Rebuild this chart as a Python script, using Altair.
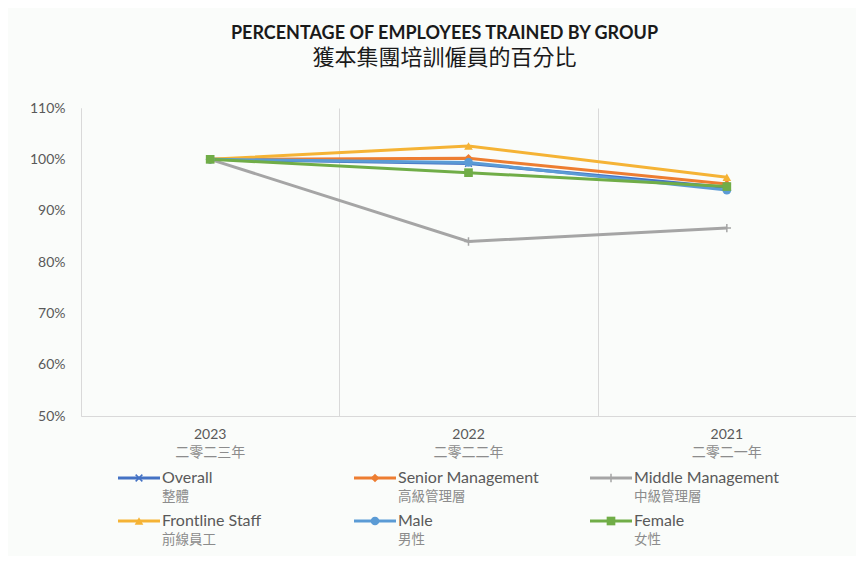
import altair as alt
import pandas as pd

# ---- data ----
years = ["2023", "2022", "2021"]
years_zh = ["二零二三年", "二零二二年", "二零二一年"]
series = ["Overall", "Senior Management", "Middle Management",
          "Frontline Staff", "Male", "Female"]
series_zh = ["整體", "高級管理層", "中級管理層", "前線員工", "男性", "女性"]
overall = [100.0, 99.2, 94.5]
senior = [100.0, 100.2, 95.2]
middle = [100.0, 84.0, 86.6]
frontline = [100.0, 102.6, 96.5]
male = [100.0, 99.4, 94.0]
female = [100.0, 97.4, 94.7]

colors = ["#4472C4", "#ED7D31", "#A5A5A5", "#F5B335", "#5B9BD5", "#70AD47"]
X_PATH = "M-0.8,-0.8L0.8,0.8M-0.8,0.8L0.8,-0.8"
PLUS_PATH = "M0,-1L0,1M-1,0L1,0"
shapes = [X_PATH, "diamond", PLUS_PATH, "triangle-up", "circle", "square"]
stroked = ["Overall", "Middle Management"]

values = [overall, senior, middle, frontline, male, female]
rows = []
for s, vals in zip(series, values):
    for y, v in zip(years, vals):
        rows.append({"series": s, "year": y, "value": v})
df = pd.DataFrame(rows)
df_years = pd.DataFrame({"year": years, "zh": years_zh})
df_leg = pd.DataFrame({"series": series, "zh": series_zh})

W, H = 775, 308
year_arr = "[" + ",".join(f"'{y}'" for y in years) + "]"
ser_arr = "[" + ",".join(f"'{s}'" for s in series) + "]"

xscale = alt.Scale(domain=[-0.5, 2.5], nice=False, zero=False)
color = alt.Color("series:N", scale=alt.Scale(domain=series, range=colors), legend=None)
shape = alt.Shape("series:N", scale=alt.Scale(domain=series, range=shapes), legend=None)

base = alt.Chart(df).transform_calculate(
    idx=f"indexof({year_arr}, datum.year)",
    v="datum.value / 100",
)
X = alt.X("idx:Q", scale=xscale,
          axis=alt.Axis(values=[-0.5, 0.5, 1.5, 2.5], grid=True, labels=False,
                        ticks=False, title=None, domainColor="#d9d9d9",
                        gridColor="#d9d9d9", gridWidth=1))
Y = alt.Y("v:Q", scale=alt.Scale(domain=[0.5, 1.1], nice=False, zero=False),
          axis=alt.Axis(format=".0%", values=[0.5, 0.6, 0.7, 0.8, 0.9, 1.0, 1.1],
                        grid=False, ticks=False, title=None, labelPadding=16,
                        domainColor="#d9d9d9", labelColor="#595959",
                        labelFont="Lato", labelFontSize=14))

lines = base.mark_line(strokeWidth=3).encode(x=X, y=Y, color=color,
                                              order=alt.Order("idx:Q"))
pts_s = base.transform_filter(
    alt.FieldOneOfPredicate(field="series", oneOf=stroked)
).mark_point(filled=False, size=70, strokeWidth=1.5, opacity=1).encode(
    x=X, y=Y, color=color, shape=shape)
pts_f = base.transform_filter(
    {"not": alt.FieldOneOfPredicate(field="series", oneOf=stroked)}
).mark_point(filled=True, size=75, opacity=1).encode(
    x=X, y=Y, color=color, shape=shape)

ybase = alt.Chart(df_years).transform_calculate(idx=f"indexof({year_arr}, datum.year)")
xl_year = ybase.mark_text(font="Lato", fontSize=14, color="#595959",
                          baseline="middle").encode(
    x=alt.X("idx:Q", scale=xscale), y=alt.value(H + 19), text="year:N")
xl_zh = ybase.mark_text(font="Noto Sans CJK TC", fontSize=14, color="#8c8c8c",
                        baseline="middle").encode(
    x=alt.X("idx:Q", scale=xscale), y=alt.value(H + 37), text="zh:N")

lg = alt.Chart(df_leg).transform_calculate(
    li=f"indexof({ser_arr}, datum.series)"
).transform_calculate(
    lx="37 + (datum.li % 3) * 236",
    ly=f"{H + 62} + floor(datum.li / 3) * 43",
).transform_calculate(
    lx2="datum.lx + 42", lxm="datum.lx + 21", ltx="datum.lx + 44",
    lzy="datum.ly + 19",
)
LX = alt.X("lx:Q", scale=None, axis=None)
LY = alt.Y("ly:Q", scale=None, axis=None)
lg_rule = lg.mark_rule(strokeWidth=3).encode(x=LX, x2="lx2:Q", y=LY, color=color)
lg_pts_s = lg.transform_filter(
    alt.FieldOneOfPredicate(field="series", oneOf=stroked)
).mark_point(filled=False, size=70, strokeWidth=1.5, opacity=1).encode(
    x=alt.X("lxm:Q", scale=None, axis=None), y=LY, color=color, shape=shape)
lg_pts_f = lg.transform_filter(
    {"not": alt.FieldOneOfPredicate(field="series", oneOf=stroked)}
).mark_point(filled=True, size=75, opacity=1).encode(
    x=alt.X("lxm:Q", scale=None, axis=None), y=LY, color=color, shape=shape)
lg_en = lg.mark_text(font="Lato", fontSize=16, color="#595959", align="left",
                     baseline="middle").encode(
    x=alt.X("ltx:Q", scale=None, axis=None), y=LY, text="series:N")
lg_zh = lg.mark_text(font="Noto Sans CJK TC", fontSize=13.5, color="#8c8c8c",
                     align="left", baseline="middle").encode(
    x=alt.X("ltx:Q", scale=None, axis=None),
    y=alt.Y("lzy:Q", scale=None, axis=None), text="zh:N")

chart = alt.layer(
    lines, pts_s, pts_f, xl_year, xl_zh, lg_rule, lg_pts_s, lg_pts_f, lg_en, lg_zh
).properties(
    width=W, height=H,
    title=alt.TitleParams(
        text="PERCENTAGE OF EMPLOYEES TRAINED BY GROUP",
        subtitle="獲本集團培訓僱員的百分比",
        font="Lato", fontSize=18, fontWeight="bold", color="#1a1a1a",
        subtitleFont="Noto Sans CJK TC", subtitleFontSize=22,
        subtitleColor="#1a1a1a", subtitleFontWeight="normal", subtitlePadding=5,
        anchor="middle", offset=32, dx=-24,
    ),
    autosize=alt.AutoSizeParams(type="none"),
    padding={"left": 73, "top": 100, "right": 0, "bottom": 140},
    background="#fafcfa",
).configure_view(stroke=None)

chart.save("out.html", embed_options={"renderer": "svg", "actions": False})
